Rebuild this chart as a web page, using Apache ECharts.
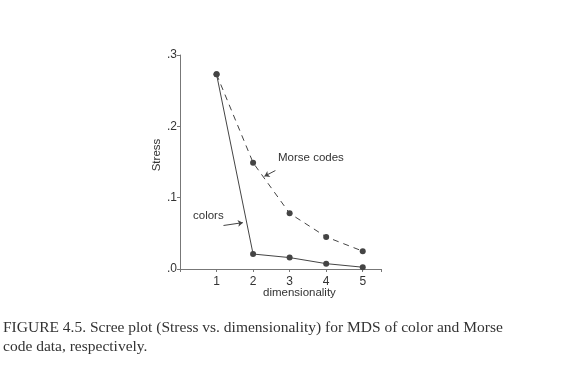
<!DOCTYPE html>
<html><head><meta charset="utf-8">
<script src="https://cdn.jsdelivr.net/npm/echarts@6/dist/echarts.min.js"></script>
<style>html,body{margin:0;padding:0;background:#fff}#c{width:565px;height:380px}</style>
</head><body><div id="c"></div>
<script>
const dims = [1, 2, 3, 4, 5];
const colorsStress = [0.273, 0.021, 0.016, 0.0075, 0.0025];
const morseStress = [0.273, 0.149, 0.078, 0.045, 0.025];
const yTickLabels = {0: '.0', 0.1: '.1', 0.2: '.2', 0.3: '.3'};
const captionLines = ['FIGURE 4.5. Scree plot (Stress vs. dimensionality) for MDS of color and Morse', 'code data, respectively.'];

const ink = '#444';
const chart = echarts.init(document.getElementById('c'), null, {renderer: 'canvas'});
const pts = a => dims.map((d, i) => [d, a[i]]);
chart.setOption({
  animation: false,
  backgroundColor: '#fff',
  grid: {left: 180, right: 184, top: 55, bottom: 111},
  xAxis: {
    type: 'value', min: 0, max: 5.5, interval: 1,
    axisLine: {lineStyle: {color: '#777'}},
    axisTick: {length: 3, lineStyle: {color: '#777'}},
    axisLabel: {fontFamily: 'Liberation Sans', fontSize: 12, color: '#333', margin: 7,
      formatter: v => (v >= 1 && v <= 5) ? String(v) : ''},
    splitLine: {show: false}
  },
  yAxis: {
    type: 'value', min: 0, max: 0.3, interval: 0.1,
    axisLine: {show: true, lineStyle: {color: '#777'}},
    axisTick: {show: true, length: 3, lineStyle: {color: '#777'}},
    axisLabel: {fontFamily: 'Liberation Sans', fontSize: 12, color: '#333', margin: 3,
      formatter: v => yTickLabels[Math.round(v * 10) / 10]},
    splitLine: {show: false}
  },
  series: [
    {
      name: 'colors', type: 'line', data: pts(colorsStress),
      symbol: 'circle', symbolSize: 6,
      lineStyle: {color: ink, width: 1}, itemStyle: {color: ink},
      markLine: {
        silent: true, symbol: ['none', 'arrow'], symbolSize: 5,
        lineStyle: {color: ink, width: 1, type: 'solid'}, label: {show: false},
        data: [[{coord: [1.19, 0.061]}, {coord: [1.72, 0.065]}]]
      }
    },
    {
      name: 'Morse codes', type: 'line', data: pts(morseStress),
      symbol: 'circle', symbolSize: 6,
      lineStyle: {color: ink, width: 1, type: [6, 5]}, itemStyle: {color: ink},
      markLine: {
        silent: true, symbol: ['none', 'arrow'], symbolSize: 5,
        lineStyle: {color: ink, width: 1, type: 'solid'}, label: {show: false},
        data: [[{coord: [2.61, 0.138]}, {coord: [2.31, 0.130]}]]
      }
    }
  ],
  graphic: [
    {type: 'text', left: 263, top: 287, style: {text: 'dimensionality', font: '11.5px "Liberation Sans"', fill: '#333'}},
    {type: 'text', x: 157, y: 155, rotation: Math.PI / 2, style: {text: 'Stress', font: '11.5px "Liberation Sans"', fill: '#333', align: 'center', verticalAlign: 'middle'}},
    {type: 'text', left: 278, top: 152, style: {text: 'Morse codes', font: '11.5px "Liberation Sans"', fill: '#333'}},
    {type: 'text', left: 193, top: 210, style: {text: 'colors', font: '11.5px "Liberation Sans"', fill: '#333'}},
    {type: 'text', left: 3, top: 320, style: {text: captionLines[0], font: '15.5px "Liberation Serif"', fill: '#333'}},
    {type: 'text', left: 3, top: 339, style: {text: captionLines[1], font: '15.5px "Liberation Serif"', fill: '#333'}}
  ]
});
</script></body></html>
